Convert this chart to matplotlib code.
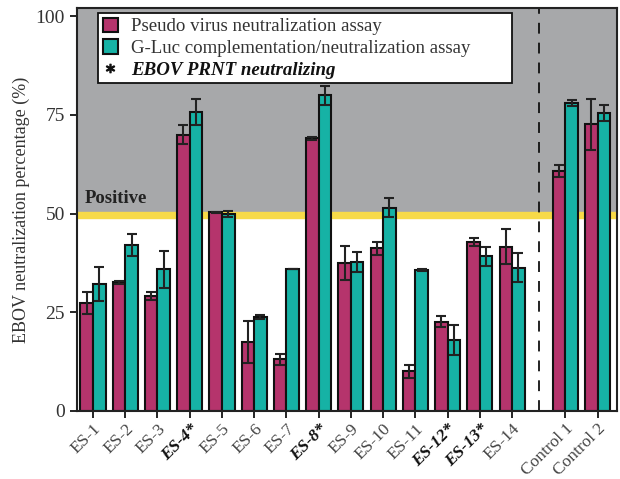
import numpy as np
import matplotlib
matplotlib.use("Agg")
import matplotlib.pyplot as plt
from matplotlib.patches import Patch
from matplotlib.lines import Line2D

# data
samples = ["ES-1", "ES-2", "ES-3", "ES-4*", "ES-5", "ES-6", "ES-7", "ES-8*", "ES-9",
           "ES-10", "ES-11", "ES-12*", "ES-13*", "ES-14", "Control 1", "Control 2"]
prnt_positive = ["ES-4*", "ES-8*", "ES-12*", "ES-13*"]
pseudo = [27.4, 32.6, 29.1, 70.0, 50.3, 17.5, 13.1, 69.0, 37.4, 41.2, 10.0, 22.6, 42.7, 41.6, 60.8, 72.6]
pseudo_err = [2.8, 0.4, 0.9, 2.4, 0.2, 5.4, 1.4, 0.4, 4.3, 1.7, 1.6, 1.4, 1.0, 4.4, 1.6, 6.4]
gluc = [32.2, 42.0, 35.9, 75.7, 49.8, 23.7, 35.9, 79.9, 37.8, 51.5, 35.7, 17.9, 39.2, 36.3, 77.9, 75.5]
gluc_err = [4.3, 2.7, 4.7, 3.3, 0.8, 0.5, 0.0, 2.4, 2.5, 2.5, 0.3, 3.8, 2.4, 3.6, 0.75, 2.0]

magenta = "#B5346C"
teal = "#16B2A5"
gray = "#A7A8AA"
yellow = "#F7DA48"

plt.rcParams["font.family"] = ["Liberation Serif", "DejaVu Serif"]

x = np.arange(len(samples), dtype=float)
x[14:] += 0.65   # gap before the controls
w = 0.39

fig = plt.figure(figsize=(6.2, 4.79), dpi=100)
ax = fig.add_axes([0.124, 0.142, 0.871, 0.841])

ax.axhspan(50.3, 110, color=gray, zorder=0)
ax.axhspan(48.8, 50.3, color=yellow, zorder=0)
ax.text(-0.27, 51.6, "Positive", fontsize=13.5, fontweight="bold", color="#222222",
        ha="left", va="bottom", zorder=1)

ek = dict(ecolor="#222222", elinewidth=1.5, capsize=3.5, capthick=1.5)
ax.bar(x - w / 2, pseudo, w, yerr=pseudo_err, color=magenta, edgecolor="#111111",
       linewidth=1.5, error_kw=ek, zorder=2)
ax.bar(x + w / 2, gluc, w, yerr=gluc_err, color=teal, edgecolor="#111111",
       linewidth=1.5, error_kw=ek, zorder=2)

ax.axvline(13.83, color="#111111", lw=1.3, ls=(0, (6, 5)), zorder=1)

ax.set_xlim(-0.5, 16.25)
ax.set_ylim(0, 102)
ax.set_yticks([0, 25, 50, 75, 100])
ax.set_ylabel("EBOV neutralization percentage (%)", fontsize=13, color="#333333")
ax.tick_params(axis="y", labelsize=14, length=5, width=1.2, labelcolor="#333333")
ax.tick_params(axis="x", length=5, width=1.2, pad=2)
ax.set_xticks(x)
ax.set_xticklabels(samples, rotation=45, ha="right", rotation_mode="anchor", fontsize=12.5,
                   color="#444444")
for lab in ax.get_xticklabels():
    if lab.get_text() in prnt_positive:
        lab.set_fontweight("bold")
        lab.set_fontstyle("italic")
        lab.set_color("#111111")
for sp in ax.spines.values():
    sp.set_linewidth(1.5)
    sp.set_color("#222222")

handles = [Patch(facecolor=magenta, edgecolor="#111111", linewidth=1.5),
           Patch(facecolor=teal, edgecolor="#111111", linewidth=1.5),
           Line2D([], [], ls="none", marker="$*$", color="#111111", markersize=6)]
labels = ["Pseudo virus neutralization assay",
          "G-Luc complementation/neutralization assay",
          "EBOV PRNT neutralizing"]
leg = ax.legend(handles, labels, loc="upper left", bbox_to_anchor=(0.039, 0.988, 0.767, 0.0),
                mode="expand", fontsize=13.6, fancybox=False, framealpha=1, edgecolor="#111111",
                handlelength=0.8, handleheight=0.8, handletextpad=0.7, labelspacing=0.2,
                borderpad=0.25, borderaxespad=0)
leg.get_frame().set_linewidth(1.3)
leg.set_zorder(5)
for t in leg.get_texts():
    t.set_color("#333333")
leg.get_texts()[2].set_fontweight("bold")
leg.get_texts()[2].set_fontstyle("italic")
leg.get_texts()[2].set_color("#111111")

fig.savefig("out.png", dpi=100)
